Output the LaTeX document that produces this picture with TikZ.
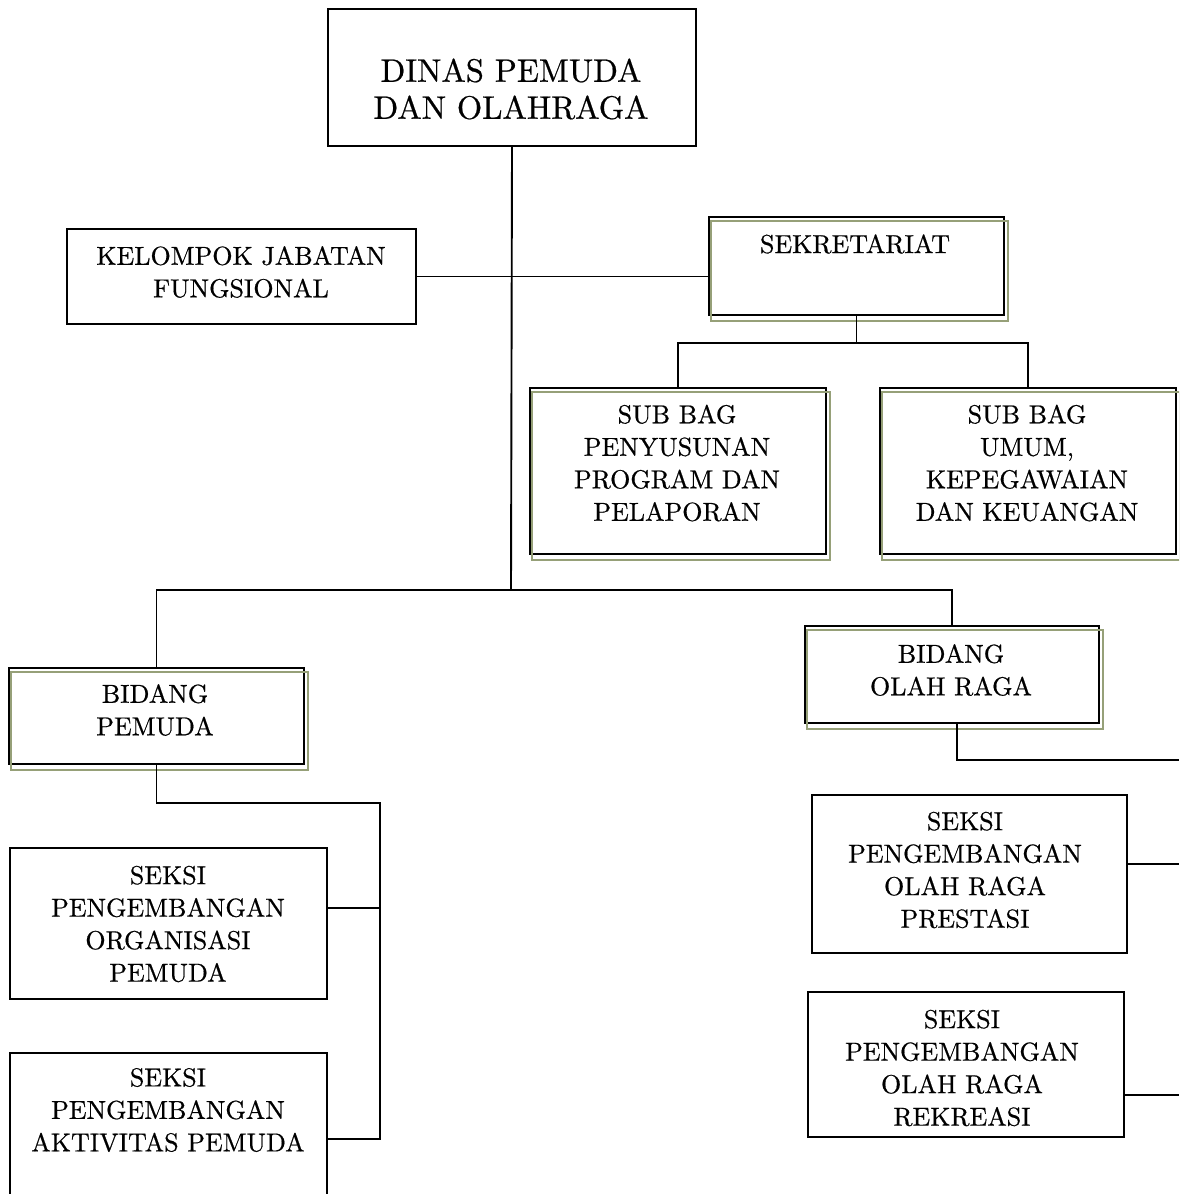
\documentclass[tikz,border=0pt]{standalone}
\usepackage{fontspec}
\setmainfont{lmroman10-regular.otf}[FakeBold=0.6]
\usetikzlibrary{positioning}
\definecolor{ghostgreen}{RGB}{150,160,120}
\tikzset{
  box/.style={draw, line width=2pt, anchor=north west, inner sep=0pt},
  ghost/.style={draw=ghostgreen, line width=1.6pt},
  txt/.style={align=center, inner sep=0pt, font=\fontsize{26}{32.5}\selectfont},
  titletxt/.style={align=center, inner sep=0pt, font=\fontsize{32.5}{37}\selectfont},
  link/.style={line width=1.9pt}
}
\begin{document}
\begin{tikzpicture}[x=1pt, y=-1pt]
  \useasboundingbox (0,0) rectangle (1179,1194);
  \clip (0,0) rectangle (1179,1194);

  % boxes
  \node[box, minimum width=368pt, minimum height=137pt] (dinas) at (327,8) {};
  \node[box, minimum width=349pt, minimum height=95pt] (kjf) at (66,228) {};
  \node[box, minimum width=295pt, minimum height=98pt] (sek) at (708,216) {};
  \node[box, minimum width=296pt, minimum height=166pt] (sb1) at (529,387) {};
  \node[box, minimum width=296pt, minimum height=166pt] (sb2) at (879,387) {};
  \node[box, minimum width=295pt, minimum height=96pt] (bp) at (8,667) {};
  \node[box, minimum width=294pt, minimum height=97pt] (bo) at (804,625) {};
  \node[box, minimum width=317pt, minimum height=151pt] (sorg) at (9,847) {};
  \node[box, minimum width=317pt, minimum height=170pt] (sakt) at (9,1052) {};
  \node[box, minimum width=315pt, minimum height=158pt] (spres) at (811,794) {};
  \node[box, minimum width=316pt, minimum height=145pt] (srek) at (807,991) {};

  % offset frames
  \foreach \n in {sek,sb1,sb2,bp,bo}
    \draw[ghost] ([shift={(3,5)}]\n.north west) rectangle ([shift={(3,5)}]\n.south east);

  % labels
  \node[titletxt] (dinas-t) at (511,89) {DINAS PEMUDA\\DAN OLAHRAGA};
  \node[txt] (kjf-t) at (241,272) {KELOMPOK JABATAN\\FUNGSIONAL};
  \node[txt] (sek-t) at (855,244) {SEKRETARIAT};
  \node[txt] (sb1-t) at (677,463) {SUB BAG\\PENYUSUNAN\\PROGRAM DAN\\PELAPORAN};
  \node[txt] (sb2-t) at (1027,463) {SUB BAG\\UMUM,\\KEPEGAWAIAN\\DAN KEUANGAN};
  \node[txt] (bp-t) at (155,710) {BIDANG\\PEMUDA};
  \node[txt] (bo-t) at (951,670) {BIDANG\\OLAH RAGA};
  \node[txt] (sorg-t) at (168,924) {SEKSI\\PENGEMBANGAN\\ORGANISASI\\PEMUDA};
  \node[txt] (sakt-t) at (168,1110) {SEKSI\\PENGEMBANGAN\\AKTIVITAS PEMUDA};
  \node[txt] (spres-t) at (965,870) {SEKSI\\PENGEMBANGAN\\OLAH RAGA\\PRESTASI};
  \node[txt] (srek-t) at (962,1068) {SEKSI\\PENGEMBANGAN\\OLAH RAGA\\REKREASI};

  % junction points
  \coordinate (hub) at (511,590);
  \coordinate (sekbus) at (855,343);
  \coordinate (pbus) at (380,803);
  \coordinate (p1) at (380,908);
  \coordinate (p2) at (380,1139);
  \coordinate (obus) at (957,760);
  \coordinate (oend) at (1179,760);
  \coordinate (e1) at (1179,864);
  \coordinate (e2) at (1179,1095);

  % connectors
  \draw[link] (dinas.south) -- (hub);
  \draw[link] (kjf.east) -- (kjf.east -| sek.west);
  \draw[link] (sek.south) -- (sek.south |- sekbus);
  \draw[link] (sb1.north) |- (sekbus) -| (sb2.north);
  \draw[link] (bp.north) |- (hub) -| (bo.north);
  \draw[link] (bp.south) |- (pbus) -- (p2) -- (p2 -| sakt.east);
  \draw[link] (p1 -| sorg.east) -- (p1);
  \draw[link] (obus |- bo.south) -- (obus) -- (oend);
  \draw[link] (e1 -| spres.east) -- (e1);
  \draw[link] (e2 -| srek.east) -- (e2);
\end{tikzpicture}
\end{document}
